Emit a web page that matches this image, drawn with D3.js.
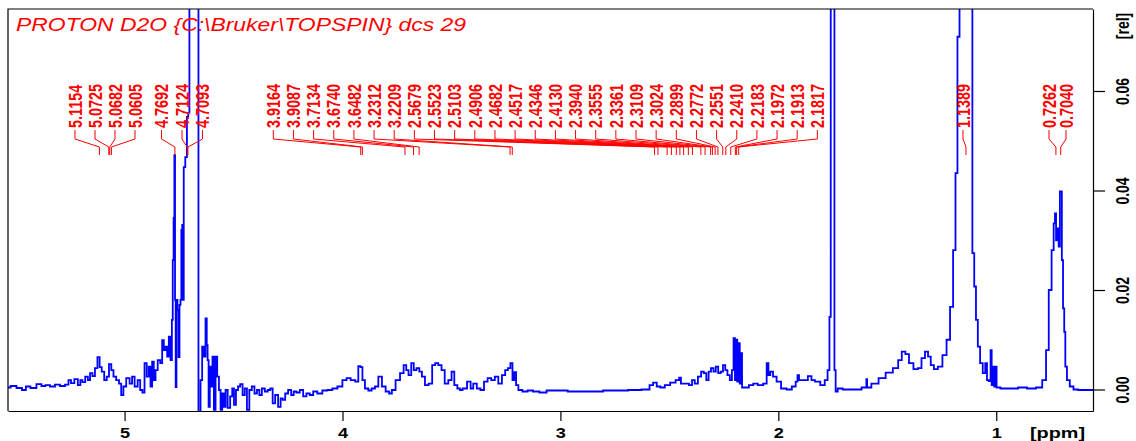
<!DOCTYPE html>
<html>
<head>
<meta charset="utf-8">
<script src="https://cdn.jsdelivr.net/npm/d3@7"></script>
<style>
  html, body { margin: 0; padding: 0; background: #ffffff; }
  svg { display: block; }
</style>
</head>
<body>
<svg id="chart" width="1136" height="441"></svg>
<script>
// 1H NMR spectrum (D2O), chemical shift in ppm vs relative intensity.
// Very tall signals (HOD, 1.75 ppm, 1.14 ppm) run off the top of the frame.
const spectrum = [
  [5.536,0.0004],[5.510,0.0007],[5.482,0.0003],[5.460,-0.0001],[5.446,0.0006],[5.418,0.0003],
  [5.391,0.0011],[5.372,0.0007],[5.354,0.0009],[5.331,0.0006],[5.308,0.0010],[5.285,0.0007],
  [5.262,0.0010],[5.253,0.0019],[5.239,0.0013],[5.222,0.0021],[5.207,0.0009],[5.199,0.0019],
  [5.188,0.0015],[5.173,0.0026],[5.164,0.0019],[5.153,0.0033],[5.142,0.0027],[5.130,0.0043],
  [5.119,0.0065],[5.110,0.0045],[5.100,0.0036],[5.087,0.0019],[5.077,0.0026],[5.066,0.0051],
  [5.056,0.0039],[5.046,0.0026],[5.031,0.0019],[5.020,0.0012],[5.011,-0.0011],[5.000,0.0006],
  [4.985,0.0023],[4.969,0.0012],[4.962,0.0026],[4.946,0.0006],[4.934,0.0019],[4.923,-0.0001],
  [4.913,-0.0006],[4.904,0.0053],[4.893,0.0026],[4.885,0.0046],[4.877,0.0006],[4.870,0.0056],
  [4.862,0.0019],[4.854,0.0039],[4.842,0.0059],[4.831,0.0053],[4.824,0.0099],[4.816,0.0079],
  [4.808,0.0086],[4.801,0.0066],[4.793,0.0106],[4.785,0.0059],[4.781,0.0140],
  [4.777,0.0260],[4.773,0.0345],[4.770,0.0471],[4.767,0.0180],[4.764,0.0005],[4.760,0.0180],
  [4.755,0.0160],[4.750,0.0065],[4.746,0.0170],[4.741,0.0180],[4.738,0.0321],[4.733,0.0331],
  [4.730,0.0180],[4.727,0.0447],[4.716,0.0467],[4.712,0.0548],[4.704,0.0556],[4.701,0.3000],
  [4.662,0.3000],[4.660,-0.0050],
  [4.655,-0.0050],[4.648,0.0019],[4.640,0.0086],[4.632,0.0066],[4.625,0.0143],[4.621,0.0089],
  [4.617,0.0059],[4.612,-0.0035],[4.606,0.0046],[4.599,0.0006],[4.594,0.0066],[4.586,-0.0041],
  [4.579,0.0066],[4.571,0.0026],[4.563,-0.0001],[4.556,-0.0041],[4.548,-0.0008],[4.540,-0.0035],
  [4.533,-0.0001],[4.521,-0.0037],[4.510,-0.0014],[4.502,0.0002],[4.494,-0.0031],[4.484,-0.0001],
  [4.475,0.0006],[4.464,0.0011],[4.453,-0.0011],[4.444,0.0002],[4.433,-0.0041],[4.422,-0.0001],
  [4.410,0.0006],[4.398,-0.0008],[4.387,-0.0001],[4.376,-0.0011],[4.364,0.0002],[4.349,-0.0004],
  [4.337,-0.0001],[4.326,0.0002],[4.315,-0.0028],[4.303,-0.0011],[4.288,-0.0035],[4.280,-0.0018],
  [4.269,-0.0021],[4.257,-0.0008],[4.242,-0.0001],[4.229,-0.0011],[4.219,-0.0004],[4.204,-0.0006],
  [4.188,-0.0001],[4.173,-0.0014],[4.158,-0.0008],[4.142,-0.0011],[4.127,-0.0004],[4.104,-0.0008],
  [4.081,-0.0002],[4.058,-0.0001],[4.035,0.0002],[4.012,0.0006],[3.989,0.0019],[3.974,0.0023],
  [3.951,0.0019],[3.932,0.0016],[3.923,0.0047],[3.912,0.0045],[3.905,0.0019],[3.889,0.0002],
  [3.874,-0.0002],[3.859,0.0002],[3.843,0.0006],[3.828,0.0026],
  [3.810,0.0006],[3.794,-0.0004],[3.778,-0.0008],[3.769,-0.0001],[3.744,0.0019],[3.728,0.0033],
  [3.711,0.0049],[3.704,0.0039],[3.690,0.0029],[3.679,0.0053],[3.667,0.0039],[3.654,0.0043],
  [3.641,0.0036],[3.630,0.0026],[3.613,0.0009],[3.597,0.0012],[3.580,0.0049],[3.569,0.0053],
  [3.552,0.0049],[3.539,0.0039],[3.523,0.0012],[3.506,0.0019],[3.493,0.0036],[3.481,0.0009],
  [3.465,0.0002],[3.457,-0.0001],[3.441,0.0002],[3.416,0.0016],[3.408,0.0002],[3.392,0.0012],
  [3.375,0.0002],[3.359,-0.0001],[3.342,0.0016],[3.326,0.0023],[3.309,0.0019],[3.293,0.0026],
  [3.277,0.0012],[3.260,0.0029],[3.247,0.0039],[3.235,0.0043],[3.224,0.0053],[3.216,0.0019],
  [3.208,0.0035],[3.199,0.0009],[3.187,-0.0001],[3.162,-0.0004],[3.139,-0.0002],[3.113,-0.0004],
  [3.080,-0.0006],[3.047,-0.0002],[3.001,-0.0002],
  [2.932,-0.0004],[2.837,-0.0004],[2.771,-0.0002],[2.722,-0.0002],[2.656,-0.0001],[2.599,0.0000],
  [2.583,0.0009],[2.566,0.0014],[2.550,0.0006],[2.533,0.0004],[2.509,0.0009],[2.484,0.0014],
  [2.459,0.0019],[2.451,0.0024],[2.443,0.0012],[2.418,0.0012],[2.402,0.0009],[2.390,0.0019],
  [2.377,0.0012],[2.361,0.0026],[2.348,0.0036],[2.336,0.0033],[2.325,0.0019],[2.315,0.0036],
  [2.303,0.0043],[2.292,0.0036],[2.282,0.0046],[2.270,0.0033],[2.259,0.0036],[2.249,0.0049],
  [2.238,0.0039],[2.229,0.0029],[2.216,0.0019],[2.210,0.0039],[2.201,0.0103],[2.197,0.0019],
  [2.192,0.0100],[2.185,0.0016],[2.180,0.0093],[2.174,0.0012],[2.169,0.0073],[2.164,0.0004],
  [2.147,0.0004],[2.123,0.0009],[2.107,0.0012],[2.082,0.0009],[2.057,0.0012],[2.050,0.0053],
  [2.041,0.0029],[2.033,0.0036],[2.016,0.0026],[2.000,0.0016],[1.975,0.0002],[1.950,0.0000],
  [1.926,0.0006],[1.915,0.0016],[1.909,0.0029],[1.901,0.0019],[1.877,0.0019],[1.852,0.0027],
  [1.844,0.0019],[1.820,0.0016],[1.795,0.0009],[1.779,0.0019],[1.769,0.0039],[1.762,0.0146],
  [1.757,0.3000],[1.745,0.3000],[1.740,0.0039],[1.734,-0.0004],
  [1.721,0.0002],[1.688,0.0000],[1.639,0.0000],[1.597,0.0004],[1.595,0.0021],[1.590,0.0004],
  [1.556,0.0012],[1.524,0.0023],[1.491,0.0034],[1.458,0.0043],[1.442,0.0059],[1.425,0.0076],
  [1.409,0.0071],[1.392,0.0053],[1.368,0.0041],[1.351,0.0043],[1.335,0.0063],[1.319,0.0076],
  [1.307,0.0066],[1.294,0.0049],[1.278,0.0041],[1.258,0.0046],[1.236,0.0069],[1.220,0.0100],
  [1.204,0.0166],[1.192,0.0280],[1.182,0.0435],[1.174,0.0709],[1.163,0.3000],[1.114,0.3000],
  [1.105,0.0274],[1.097,0.0207],[1.089,0.0140],[1.080,0.0086],[1.068,0.0053],[1.056,0.0033],
  [1.045,0.0053],[1.040,0.0019],[1.029,0.0017],[1.023,0.0079],[1.019,0.0009],[1.012,0.0046],
  [1.007,0.0006],[1.002,0.0046],[0.995,0.0004],[0.966,0.0002],[0.916,0.0002],[0.884,0.0004],
  [0.834,0.0002],[0.801,0.0004],[0.777,0.0019],[0.766,0.0079],[0.752,0.0200],[0.740,0.0280],
  [0.733,0.0334],[0.728,0.0354],[0.723,0.0300],[0.717,0.0324],[0.710,0.0287],[0.706,0.0398],
  [0.701,0.0398],[0.697,0.0260],[0.690,0.0163],[0.686,0.0116],[0.680,0.0046],[0.671,0.0019],
  [0.654,0.0006],[0.637,0.0000],[0.611,-0.0001],[0.552,-0.0001]
];

// Picked peak positions (ppm), one array per label fan
const peaksA = [5.1154, 5.0725, 5.0682, 5.0605];
const peaksB = [4.7692, 4.7124, 4.7093];
const peaksC = [3.9164, 3.9087, 3.7134, 3.6740, 3.6482, 3.2312, 3.2209, 2.5679, 2.5523,
                2.5103, 2.4906, 2.4682, 2.4517, 2.4346, 2.4130, 2.3940, 2.3555, 2.3361,
                2.3109, 2.3024, 2.2899, 2.2772, 2.2551, 2.2410, 2.2183, 2.1972, 2.1913, 2.1817];
const peaksD = [1.1389];
const peaksE = [0.7262, 0.7040];

// Axis ticks
const ppmTicks = [5, 4, 3, 2, 1];
const ppmMinorTicks = [5.4, 5.2, 4.8, 4.6, 4.4, 4.2, 3.8, 3.6, 3.4, 3.2, 2.8, 2.6, 2.4, 2.2,
                       1.8, 1.6, 1.4, 1.2, 0.8, 0.6];
const relTicks = [0.00, 0.02, 0.04, 0.06];
const relMinorTicks = [0.005, 0.010, 0.015, 0.025, 0.030, 0.035, 0.045, 0.050, 0.055,
                       0.065, 0.070, 0.075];

const titleText = "PROTON D2O {C:\\Bruker\\TOPSPIN} dcs 29";

// ---------- layout ----------
const frame = { left: 8, right: 1093, top: 9, bottom: 411 };
const BLUE = "#0000ff", RED = "#ff0000";
const FONT = "'Liberation Sans', Arial, Helvetica, sans-serif";
const WIDEN = 1.3;            // glyphs are drawn wide (horizontal stretch)

const svg = d3.select("#chart");

const x = d3.scaleLinear().domain([5.535, 0.556]).range([frame.left, frame.right]);
const y = d3.scaleLinear().domain([-0.00432, 0.07648]).range([frame.bottom, frame.top]);

svg.append("defs").append("clipPath").attr("id", "plotClip")
  .append("rect")
  .attr("x", frame.left).attr("y", frame.top)
  .attr("width", frame.right - frame.left).attr("height", frame.bottom - frame.top);

// spectrum trace
const line = d3.line()
  .x(d => x(d[0]))
  .y(d => y(d[1]))
  .curve(d3.curveStep);

svg.append("path")
  .datum(spectrum)
  .attr("clip-path", "url(#plotClip)")
  .attr("fill", "none")
  .attr("stroke", BLUE)
  .attr("stroke-width", 1.8)
  .attr("stroke-linejoin", "miter")
  .attr("d", line);

// left and top edges of the frame
svg.append("path")
  .attr("d", `M${frame.left},${frame.bottom}V${frame.top}H${frame.right}`)
  .attr("fill", "none").attr("stroke", "#000").attr("stroke-width", 1.2);

// ---------- bottom ppm axis ----------
const gx = svg.append("g").attr("transform", `translate(0,${frame.bottom})`);
gx.call(d3.axisBottom(x).tickValues(ppmMinorTicks).tickSize(6).tickSizeOuter(0).tickFormat(""));
gx.call(d3.axisBottom(x).tickValues(ppmTicks).tickSize(10).tickSizeOuter(0)
  .tickPadding(7).tickFormat(d3.format("d")));
gx.selectAll(".domain").attr("stroke", "#000").attr("stroke-width", 1.2);
gx.selectAll(".tick line").attr("stroke", "#000").attr("stroke-width", 1.2);
gx.selectAll(".tick text")
  .attr("y", null).attr("dy", null)
  .attr("transform", `translate(0,27) scale(${WIDEN},1)`)
  .attr("font-family", FONT).attr("font-size", 14).attr("font-weight", "bold")
  .attr("fill", "#000");

svg.append("text")
  .attr("x", 1030).attr("y", 438)
  .attr("font-family", FONT).attr("font-size", 15).attr("font-weight", "bold")
  .attr("fill", "#000")
  .attr("textLength", 55).attr("lengthAdjust", "spacingAndGlyphs")
  .text("[ppm]");

// ---------- right relative-intensity axis ----------
const gy = svg.append("g").attr("transform", `translate(${frame.right},0)`);
gy.call(d3.axisRight(y).tickValues(relMinorTicks).tickSize(6).tickSizeOuter(0).tickFormat(""));
gy.call(d3.axisRight(y).tickValues(relTicks).tickSize(12).tickSizeOuter(0)
  .tickFormat(d3.format(".2f")));
gy.selectAll(".domain").attr("stroke", "#000").attr("stroke-width", 1.2);
gy.selectAll(".tick line").attr("stroke", "#000").attr("stroke-width", 1.2);
gy.selectAll(".tick text")
  .attr("x", null).attr("dy", null)
  .attr("transform", `translate(35.5,0) rotate(-90) scale(1,${WIDEN})`)
  .attr("text-anchor", "middle")
  .attr("font-family", FONT).attr("font-size", 14).attr("font-weight", "bold")
  .attr("fill", "#000");

svg.append("text")
  .attr("transform", `translate(${frame.right + 35.5},26) rotate(-90) scale(1,${WIDEN})`)
  .attr("text-anchor", "middle")
  .attr("font-family", FONT).attr("font-size", 14).attr("font-weight", "bold")
  .attr("fill", "#000")
  .text("[rel]");

// ---------- title ----------
svg.append("text")
  .attr("x", 16).attr("y", 31)
  .attr("font-family", FONT).attr("font-size", 17.5).attr("font-style", "italic")
  .attr("fill", RED)
  .attr("textLength", 450).attr("lengthAdjust", "spacingAndGlyphs")
  .text(titleText);

// ---------- peak label fans ----------
const fans = [
  { peaks: peaksA, x0: 75,    step: 20 },
  { peaks: peaksB, x0: 161.5, step: 20.5 },
  { peaks: peaksC, x0: 273.3, step: 20.15 },
  { peaks: peaksD, x0: 963,   step: 0 },
  { peaks: peaksE, x0: 1049,  step: 17 }
];
const textBottom = 128, y1 = 130, y2 = 139, y3 = 147, y4 = 155;
const labelSize = 14.4;
const labelHalf = 0.716 * labelSize * WIDEN / 2;

const gLab = svg.append("g");
fans.forEach(f => {
  f.peaks.forEach((p, i) => {
    const lx = f.x0 + i * f.step;
    const px = x(p);
    gLab.append("path")
      .attr("d", `M${lx},${y1}V${y2}L${px},${y3}V${y4}`)
      .attr("fill", "none").attr("stroke", RED).attr("stroke-width", 1);
    gLab.append("text")
      .attr("transform", `translate(${lx + labelHalf},${textBottom}) rotate(-90) scale(1,${WIDEN})`)
      .attr("font-family", FONT).attr("font-size", labelSize).attr("font-weight", "bold")
      .attr("fill", RED)
      .text(p.toFixed(4));
  });
});
</script>
</body>
</html>
